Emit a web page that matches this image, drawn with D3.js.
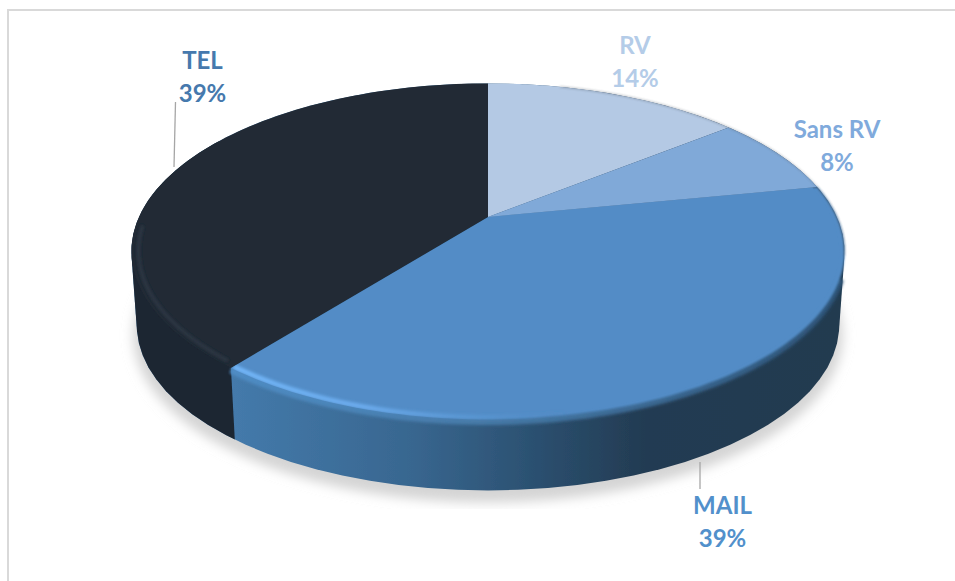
<!DOCTYPE html>
<html><head><meta charset="utf-8">
<script src="https://cdn.jsdelivr.net/npm/d3@7/dist/d3.min.js"></script>
<style>html,body{margin:0;padding:0;background:#fff}svg{display:block}
text{font-family:Lato,"Open Sans",sans-serif;font-weight:700;font-size:24px;text-anchor:middle}</style>
</head><body><svg id="c" width="955" height="581"></svg>
<script>
const categories = ["RV", "Sans RV", "MAIL", "TEL"];
const values = [14.2, 7.7, 38.7, 39.4];
const labels = ["14%", "8%", "39%", "39%"];
const topColors = ["#b4c9e4", "#80a9d8", "#528cc6", "#202a35"];
const labelColors = ["#b4cce8", "#80aadc", "#5290cb", "#4679ad"];
const labelPos = [[635,54],[837,138],[722.5,514],[202.5,69]];
const leaders = [null, null, [[700,462],[700,489]], [[175.5,102],[174,167]]];

const svg = d3.select("#c");
const defs = svg.append("defs");
svg.append("path").attr("d","M8 581V10H955").attr("fill","none").attr("stroke","#d9d9d9").attr("stroke-width",2);

// perspective projection of a unit disc to the page
const k = 0.205;
const proj = (g, o={}) => {
  const cx=488, cy=217+(o.dy||0), R=349*(o.s||1), S=161*(o.s||1);
  const u=Math.sin(g), v=-Math.cos(g), w=1-k*v;
  return [cx+R*u/w, cy+S*v/w];
};
const arcPts = (a,b,o) => d3.range(0,91).map(i=>proj(a+(b-a)*i/90,o));
const line = d3.line();
const base = {dy:74,s:0.985};
const apex = [488,217];
const arcs = d3.pie().sort(null)(values);
const T = 2*Math.PI;
const hull = pts => "M"+d3.polygonHull(pts).join("L")+"Z";

const blur=(id,s)=>defs.append("filter").attr("id",id).attr("x","-20%").attr("y","-20%").attr("width","140%").attr("height","140%")
  .append("feGaussianBlur").attr("stdDeviation",s);
blur("b04",0.5); blur("b1",1.2); blur("b15",1.6); blur("b6",6);

// gradient of MAIL side
const g = defs.append("linearGradient").attr("id","mailSide").attr("gradientUnits","userSpaceOnUse")
  .attr("x1",232).attr("x2",840).attr("y1",0).attr("y2",0);
[[0,"#447aab"],[0.3,"#38668f"],[0.5,"#2b5070"],[0.68,"#233b52"],[1,"#223b50"]]
  .forEach(([o,c])=>g.append("stop").attr("offset",o).attr("stop-color",c));
const hl = defs.append("linearGradient").attr("id","mailHL").attr("gradientUnits","userSpaceOnUse")
  .attr("x1",232).attr("x2",840).attr("y1",0).attr("y2",0);
[[0,"#72b6f8",1],[0.22,"#6cacee",.95],[0.42,"#5f9fdd",.4],[0.55,"#538dc6",0],[1,"#538dc6",0]]
  .forEach(([o,c,a])=>hl.append("stop").attr("offset",o).attr("stop-color",c).attr("stop-opacity",a));
const band = defs.append("linearGradient").attr("id","mailBand").attr("gradientUnits","userSpaceOnUse")
  .attr("x1",232).attr("x2",840).attr("y1",0).attr("y2",0);
[[0,"#4f8cc4"],[0.4,"#467aa8"],[1,"#2e5478"]]
  .forEach(([o,c])=>band.append("stop").attr("offset",o).attr("stop-color",c));

const mail=arcs[2], tel=arcs[3];
const topAll=arcPts(0,T), botAll=arcPts(0,T,base);
const cTop=proj(mail.endAngle), cBot=proj(mail.endAngle,base);
// clip for the TEL wall: everything left of the MAIL/TEL seam
const slope=(cBot[0]-cTop[0])/(cBot[1]-cTop[1]);
defs.append("clipPath").attr("id","telSide").append("path")
  .attr("d","M"+[[cTop[0]-cTop[1]*slope,0],[cTop[0]+(600-cTop[1])*slope,600],[0,600],[0,0]].join("L")+"Z");
defs.append("clipPath").attr("id","mailFace").append("path")
  .attr("d",line([apex,...arcPts(mail.startAngle,mail.endAngle)])+"Z");

const chart=svg.append("g").attr("filter","url(#b04)");
// shadow under the disc
chart.append("path").attr("d",line(arcPts(0,T,{dy:84,s:0.995}))+"Z").attr("fill","#d4d4d4").attr("filter","url(#b6)");

// side walls: hull of top and bottom outlines
chart.append("path").attr("d",hull([...topAll,...botAll])).attr("fill","url(#mailSide)");
chart.append("path").attr("d",hull([...topAll,...botAll])).attr("fill","#1c2530").attr("clip-path","url(#telSide)");

// rim band between face and wall on MAIL
chart.append("path").attr("d",line(arcPts(mail.startAngle+0.55,mail.endAngle,{dy:2,s:1})))
  .attr("fill","none").attr("stroke","url(#mailBand)").attr("stroke-width",7).attr("filter","url(#b15)");
// soft-edged MAIL face below a clean inner wedge
chart.append("path").attr("d",line([apex,...arcPts(mail.startAngle,mail.endAngle)])+"Z")
  .attr("fill",topColors[2]).attr("filter","url(#b1)");
[2,3,0,1].forEach(i=>{
  const d=arcs[i];
  const o=i===2?{s:0.985}:{};
  chart.append("path").datum(d)
    .attr("d",line([apex,...arcPts(d.startAngle,d.endAngle,o)])+"Z")
    .attr("fill",topColors[i]);
});
// highlight of the MAIL bevel
chart.append("g").attr("clip-path","url(#mailFace)").append("path")
  .attr("d",line(arcPts(mail.startAngle+1.25,mail.endAngle,{s:0.99})))
  .attr("fill","none").attr("stroke","url(#mailHL)").attr("stroke-width",5).attr("filter","url(#b15)");
// faint bevel line on TEL
chart.append("path").attr("d",line(arcPts(tel.startAngle+0.03,tel.startAngle+0.85,{s:0.98})))
  .attr("fill","none").attr("stroke","#3a4552").attr("stroke-width",3).attr("stroke-opacity",.55).attr("filter","url(#b15)");
// thin grey edge on the far rim
chart.append("path").attr("d",line(arcPts(0.25,1.8)))
  .attr("fill","none").attr("stroke","#55606c").attr("stroke-width",1).attr("stroke-opacity",.6).attr("filter","url(#b1)");

// labels
arcs.forEach((d,i)=>{
  const t=svg.append("text").attr("fill",labelColors[i]);
  t.append("tspan").attr("x",labelPos[i][0]).attr("y",labelPos[i][1]).text(categories[i]);
  t.append("tspan").attr("x",labelPos[i][0]).attr("y",labelPos[i][1]+33).text(labels[i]);
  if(leaders[i]) svg.append("path").attr("d",line(leaders[i])).attr("stroke","#a6a6a6").attr("stroke-width",1.3).attr("fill","none");
});
</script></body></html>
